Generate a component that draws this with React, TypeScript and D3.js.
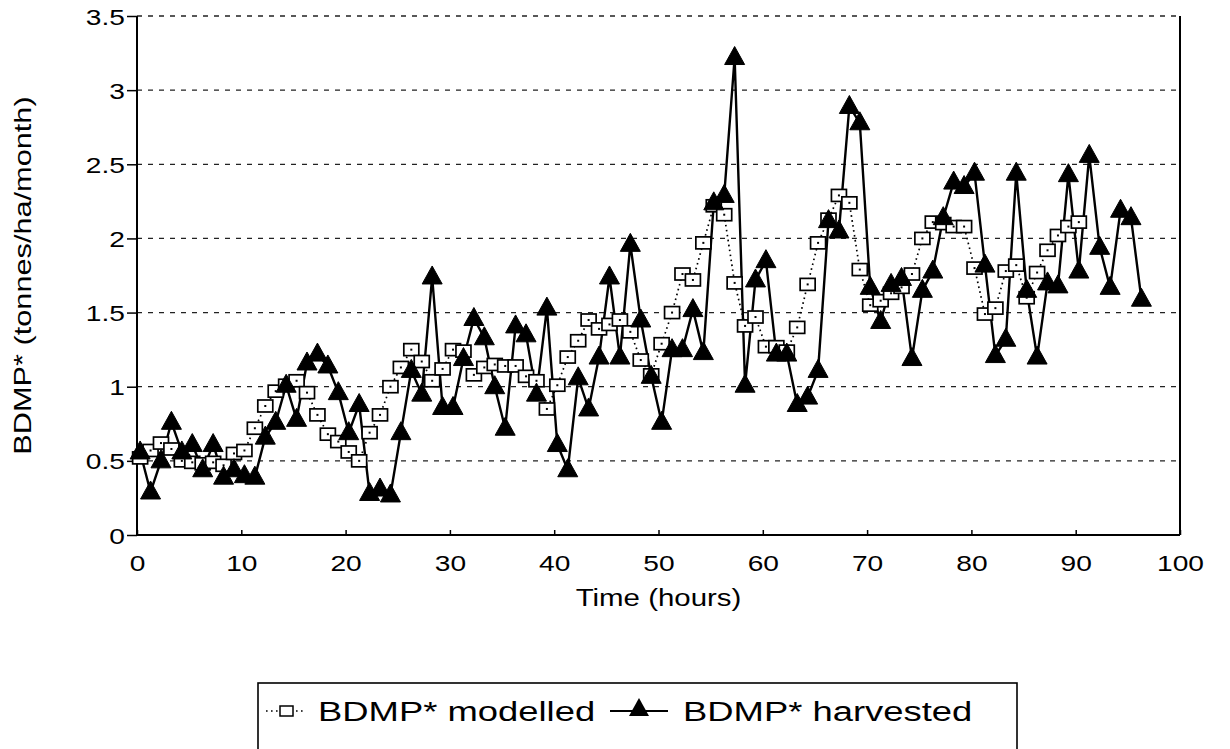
import { useEffect, useRef } from 'react';
import * as d3 from 'd3';

// BDMP* values, one per hour
const modelled = [
  0.52, 0.57, 0.62, 0.58, 0.50, 0.49, 0.48, 0.49, 0.47, 0.55,
  0.57, 0.72, 0.87, 0.97, 1.01, 1.04, 0.96, 0.81, 0.68, 0.63,
  0.56, 0.50, 0.69, 0.81, 1.00, 1.13, 1.25, 1.17, 1.04, 1.12,
  1.25, 1.24, 1.08, 1.13, 1.15, 1.14, 1.14, 1.07, 1.04, 0.85,
  1.01, 1.20, 1.31, 1.45, 1.39, 1.42, 1.45, 1.37, 1.18, 1.08,
  1.29, 1.50, 1.76, 1.72, 1.97, 2.22, 2.16, 1.70, 1.41, 1.47,
  1.27, 1.27, 1.24, 1.40, 1.69, 1.97, 2.13, 2.29, 2.24, 1.79,
  1.55, 1.58, 1.63, 1.67, 1.76, 2.00, 2.11, 2.10, 2.08, 2.08,
  1.80, 1.49, 1.53, 1.78, 1.82, 1.60, 1.77, 1.92, 2.02, 2.08, 2.11,
];

const harvested = [
  0.56, 0.29, 0.50, 0.76, 0.56, 0.61, 0.44, 0.61, 0.39, 0.44,
  0.40, 0.39, 0.66, 0.76, 1.01, 0.78, 1.16, 1.22, 1.14, 0.96,
  0.69, 0.88, 0.28, 0.31, 0.27, 0.69, 1.11, 0.95, 1.74, 0.86,
  0.86, 1.19, 1.46, 1.33, 1.00, 0.72, 1.41, 1.35, 0.95, 1.53,
  0.61, 0.44, 1.06, 0.85, 1.20, 1.74, 1.20, 1.96, 1.45, 1.07,
  0.76, 1.25, 1.25, 1.52, 1.23, 2.24, 2.29, 3.22, 1.01, 1.72,
  1.85, 1.22, 1.22, 0.88, 0.93, 1.11, 2.12, 2.05, 2.89, 2.78,
  1.67, 1.44, 1.69, 1.73, 1.19, 1.65, 1.78, 2.14, 2.38, 2.35,
  2.44, 1.82, 1.21, 1.32, 2.44, 1.65, 1.20, 1.70, 1.68, 2.43,
  1.78, 2.56, 1.94, 1.67, 2.19, 2.14, 1.59,
];

const xTicks = [0, 10, 20, 30, 40, 50, 60, 70, 80, 90, 100];
const yTicks = [0, 0.5, 1, 1.5, 2, 2.5, 3, 3.5];
const seriesNames = ['BDMP* modelled', 'BDMP* harvested'];
const xTitle = 'Time (hours)';
const yTitle = 'BDMP*  (tonnes/ha/month)';

const FONT = '"Liberation Sans", Arial, sans-serif';
const STRETCH = 1.28;
const TRI = 'M0,-11L10,7L-10,7Z';

export default function App() {
  const svgRef = useRef<SVGSVGElement | null>(null);

  useEffect(() => {
    if (!svgRef.current) return;
    const svg = d3.select(svgRef.current);
    svg.selectAll('*').remove();

    const x = d3.scaleLinear().domain([0, 100]).range([137, 1180]);
    const y = d3.scaleLinear().domain([0, 3.5]).range([535, 16]);
    const hour = (i: number) => i + 0.3;

    svg.append('rect').attr('width', 1230).attr('height', 749).attr('fill', '#fff');

    // dashed grid
    svg.append('g')
      .selectAll('line')
      .data(yTicks.filter(d => d > 0))
      .join('line')
      .attr('x1', x(0)).attr('x2', x(100))
      .attr('y1', d => y(d)).attr('y2', d => y(d))
      .attr('stroke', '#222').attr('stroke-width', 1.3)
      .attr('stroke-dasharray', '5,6');

    // axes frame
    const frame = svg.append('g').attr('stroke', '#000').attr('stroke-width', 2);
    frame.append('line').attr('x1', x(0)).attr('x2', x(0)).attr('y1', y(0)).attr('y2', y(3.5));
    frame.append('line').attr('x1', x(0)).attr('x2', x(100)).attr('y1', y(0)).attr('y2', y(0));
    frame.append('line').attr('x1', x(100)).attr('x2', x(100)).attr('y1', y(0)).attr('y2', y(3.5));

    const yAxis = d3.axisLeft(y).tickValues(yTicks).tickSize(10).tickFormat(d3.format('~g') as any);
    const gy = svg.append('g').attr('transform', `translate(${x(0)},0)`).call(yAxis);
    gy.select('.domain').remove();
    gy.selectAll('.tick line').attr('stroke', '#000').attr('stroke-width', 1.5);
    gy.selectAll('.tick text')
      .attr('x', null).attr('dy', null)
      .attr('font-family', FONT).attr('font-size', 22).attr('fill', '#000')
      .attr('text-anchor', 'end')
      .attr('transform', `translate(-12,8) scale(${STRETCH},1)`);

    const xAxis = d3.axisBottom(x).tickValues(xTicks).tickSize(-5).tickFormat(d3.format('d') as any);
    const gx = svg.append('g').attr('transform', `translate(0,${y(0)})`).call(xAxis);
    gx.select('.domain').remove();
    gx.selectAll('.tick line').attr('stroke', '#000').attr('stroke-width', 1.5);
    gx.selectAll('.tick text')
      .attr('y', null).attr('dy', null)
      .attr('font-family', FONT).attr('font-size', 22).attr('fill', '#000')
      .attr('transform', `translate(0,36) scale(${STRETCH},1)`);

    // titles
    svg.append('text')
      .attr('transform', `translate(${(x(0) + x(100)) / 2},606) scale(${STRETCH},1)`)
      .attr('text-anchor', 'middle').attr('font-family', FONT).attr('font-size', 23)
      .text(xTitle);
    svg.append('text')
      .attr('transform', `translate(31,${y(1.75)}) rotate(-90) scale(${STRETCH},1)`)
      .attr('text-anchor', 'middle').attr('font-family', FONT).attr('font-size', 24)
      .text(yTitle);

    // modelled: dotted line with open squares
    const line = d3.line<number>().x((_, i) => x(hour(i))).y(d => y(d));
    svg.append('path').datum(modelled).attr('d', line)
      .attr('fill', 'none').attr('stroke', '#000').attr('stroke-width', 1.7)
      .attr('stroke-dasharray', '1.6,3.4');

    // harvested: solid line
    svg.append('path').datum(harvested).attr('d', line)
      .attr('fill', 'none').attr('stroke', '#000').attr('stroke-width', 2.4);

    const sq = svg.append('g').selectAll('g').data(modelled).join('g')
      .attr('transform', (d, i) => `translate(${x(hour(i))},${y(d)})`);
    sq.append('rect').attr('x', -7.5).attr('y', -6).attr('width', 15).attr('height', 12)
      .attr('fill', '#fff').attr('stroke', '#000').attr('stroke-width', 1.7);
    sq.append('rect').attr('x', -1).attr('y', -1).attr('width', 2).attr('height', 2).attr('fill', '#000');

    svg.append('g').selectAll('path').data(harvested).join('path')
      .attr('d', TRI)
      .attr('transform', (d, i) => `translate(${x(hour(i))},${y(d)})`)
      .attr('fill', '#000').attr('stroke', '#000').attr('stroke-width', 1);

    // legend
    const lg = svg.append('g');
    lg.append('rect').attr('x', 258).attr('y', 683).attr('width', 759).attr('height', 120)
      .attr('fill', 'none').attr('stroke', '#000').attr('stroke-width', 1.6);
    lg.append('line').attr('x1', 266).attr('x2', 306).attr('y1', 711).attr('y2', 711)
      .attr('stroke', '#000').attr('stroke-width', 1.6).attr('stroke-dasharray', '1.6,3.4');
    lg.append('rect').attr('x', 280).attr('y', 706).attr('width', 13).attr('height', 10)
      .attr('fill', '#fff').attr('stroke', '#000').attr('stroke-width', 1.5);
    lg.append('line').attr('x1', 610).attr('x2', 668).attr('y1', 711).attr('y2', 711)
      .attr('stroke', '#000').attr('stroke-width', 2.2);
    lg.append('path').attr('d', TRI).attr('transform', 'translate(639,709)').attr('fill', '#000');
    lg.selectAll('text.lab').data(seriesNames).join('text')
      .attr('class', 'lab')
      .attr('transform', (_, i) => `translate(${i === 0 ? 318 : 683},721) scale(1.3,1)`)
      .attr('font-family', FONT).attr('font-size', 28).attr('fill', '#000')
      .text(d => d);
  }, []);

  return (
    <svg
      ref={svgRef}
      width={1230}
      height={749}
      style={{ position: 'absolute', left: 0, top: 0, background: '#fff' }}
    />
  );
}
